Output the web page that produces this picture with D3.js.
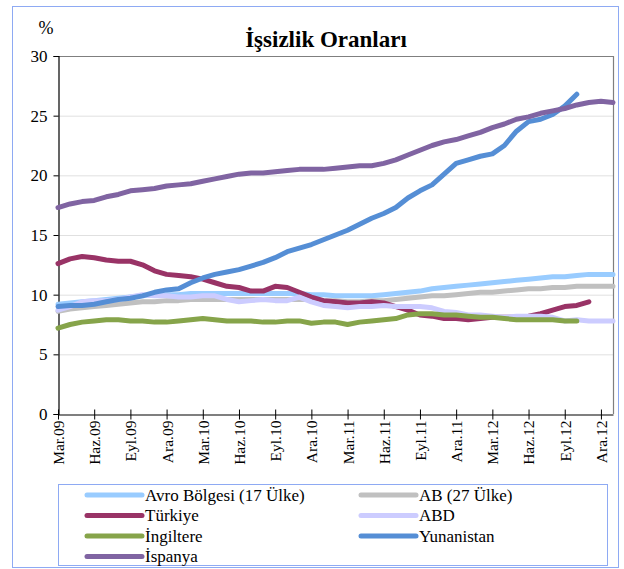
<!DOCTYPE html>
<html>
<head>
<meta charset="utf-8">
<script src="https://cdn.jsdelivr.net/npm/d3@7"></script>
<style>
    body { margin: 0; background: #fff; }
    svg { display: block; }
    svg text { font-family: "Liberation Serif", "DejaVu Serif", serif; }
</style>
</head>
<body>
<script>
// months Mar.09 .. Oca.13, one value per month
var months = ["Mar.09","Nis.09","May.09","Haz.09","Tem.09","Agu.09","Eyl.09","Eki.09","Kas.09","Ara.09",
	      "Oca.10","Sub.10","Mar.10","Nis.10","May.10","Haz.10","Tem.10","Agu.10","Eyl.10","Eki.10","Kas.10","Ara.10",
	      "Oca.11","Sub.11","Mar.11","Nis.11","May.11","Haz.11","Tem.11","Agu.11","Eyl.11","Eki.11","Kas.11","Ara.11",
	      "Oca.12","Sub.12","Mar.12","Nis.12","May.12","Haz.12","Tem.12","Agu.12","Eyl.12","Eki.12","Kas.12","Ara.12",
	      "Oca.13"] ;

var tickLabels = ["Mar.09","Haz.09","Eyl.09","Ara.09","Mar.10","Haz.10","Eyl.10","Ara.10",
		  "Mar.11","Haz.11","Eyl.11","Ara.11","Mar.12","Haz.12","Eyl.12","Ara.12"] ;

var yTicks = [0, 5, 10, 15, 20, 25, 30] ;

var avro = [9.2, 9.3, 9.4, 9.5, 9.6, 9.7, 9.8, 9.9, 10.0, 10.0,
	    10.0, 10.1, 10.1, 10.1, 10.1, 10.1, 10.1, 10.1, 10.1, 10.1, 10.1, 10.0,
	    10.0, 9.9, 9.9, 9.9, 9.9, 10.0, 10.1, 10.2, 10.3, 10.5, 10.6, 10.7,
	    10.8, 10.9, 11.0, 11.1, 11.2, 11.3, 11.4, 11.5, 11.5, 11.6, 11.7, 11.7,
	    11.7] ;

var ab27 = [8.6, 8.8, 8.9, 9.0, 9.1, 9.2, 9.3, 9.4, 9.4, 9.5,
	    9.5, 9.6, 9.6, 9.6, 9.6, 9.6, 9.6, 9.6, 9.6, 9.6, 9.6, 9.6,
	    9.5, 9.5, 9.4, 9.4, 9.5, 9.5, 9.6, 9.7, 9.8, 9.9, 9.9, 10.0,
	    10.1, 10.2, 10.2, 10.3, 10.4, 10.5, 10.5, 10.6, 10.6, 10.7, 10.7, 10.7,
	    10.7] ;

var turkiye = [12.6, 13.0, 13.2, 13.1, 12.9, 12.8, 12.8, 12.5, 12.0, 11.7,
	       11.6, 11.5, 11.3, 11.0, 10.7, 10.6, 10.3, 10.3, 10.7, 10.6, 10.2, 9.8,
	       9.5, 9.4, 9.3, 9.3, 9.4, 9.3, 9.0, 8.7, 8.3, 8.2, 8.0, 8.0,
	       7.9, 8.0, 8.1, 8.1, 8.1, 8.2, 8.4, 8.7, 9.0, 9.1, 9.4] ;

var abd = [8.7, 9.0, 9.4, 9.5, 9.5, 9.6, 9.8, 10.0, 9.9, 9.9,
	   9.8, 9.8, 9.9, 9.9, 9.6, 9.4, 9.5, 9.6, 9.5, 9.5, 9.8, 9.4,
	   9.1, 9.0, 8.9, 9.0, 9.0, 9.1, 9.0, 9.0, 9.0, 8.9, 8.6, 8.5,
	   8.3, 8.3, 8.2, 8.1, 8.2, 8.2, 8.2, 8.1, 7.8, 7.9, 7.8, 7.8,
	   7.8] ;

var ingiltere = [7.2, 7.5, 7.7, 7.8, 7.9, 7.9, 7.8, 7.8, 7.7, 7.7,
		 7.8, 7.9, 8.0, 7.9, 7.8, 7.8, 7.8, 7.7, 7.7, 7.8, 7.8, 7.6,
		 7.7, 7.7, 7.5, 7.7, 7.8, 7.9, 8.0, 8.3, 8.4, 8.4, 8.3, 8.3,
		 8.2, 8.1, 8.1, 8.0, 7.9, 7.9, 7.9, 7.9, 7.8, 7.8] ;

var yunanistan = [9.0, 9.1, 9.1, 9.2, 9.4, 9.6, 9.7, 9.9, 10.2, 10.4,
		  10.5, 11.0, 11.4, 11.7, 11.9, 12.1, 12.4, 12.7, 13.1, 13.6, 13.9, 14.2,
		  14.6, 15.0, 15.4, 15.9, 16.4, 16.8, 17.3, 18.1, 18.7, 19.2, 20.1, 21.0,
		  21.3, 21.6, 21.8, 22.5, 23.7, 24.5, 24.7, 25.1, 25.8, 26.8] ;

var ispanya = [17.3, 17.6, 17.8, 17.9, 18.2, 18.4, 18.7, 18.8, 18.9, 19.1,
	       19.2, 19.3, 19.5, 19.7, 19.9, 20.1, 20.2, 20.2, 20.3, 20.4, 20.5, 20.5,
	       20.5, 20.6, 20.7, 20.8, 20.8, 21.0, 21.3, 21.7, 22.1, 22.5, 22.8, 23.0,
	       23.3, 23.6, 24.0, 24.3, 24.7, 24.9, 25.2, 25.4, 25.6, 25.9, 26.1, 26.2,
	       26.1] ;

var seriesNames = ["Avro Bölgesi (17 Ülke)", "AB (27 Ülke)", "Türkiye", "ABD", "İngiltere", "Yunanistan", "İspanya"] ;
var seriesColors = ["#99ccff", "#c0c0c0", "#993366", "#ccccff", "#86a44a", "#558ed5", "#8064a2"] ;
var seriesValues = [avro, ab27, turkiye, abd, ingiltere, yunanistan, ispanya] ;

var fontFamily = "Liberation Serif, DejaVu Serif, serif" ;

function draw_chart()
{
    var width = 624, height = 569 ;
    var left = 58, right = 613, top = 56, bottom = 414 ;

    var svg = d3.select("body").append("svg")
	.attr("width", width)
	.attr("height", height) ;

    //outer frame
    svg.append("rect")
	.attr("x", 12.5)
	.attr("y", 6.5)
	.attr("width", 606)
	.attr("height", 561)
	.attr("fill", "none")
	.attr("stroke", "#8eaaf3")
	.attr("stroke-width", 1) ;

    var x = d3.scalePoint()
	.domain(months)
	.range([left, right]) ;

    var y = d3.scaleLinear()
	.domain([0, 30])
	.range([bottom, top]) ;

    //horizontal grid lines
    svg.append("g")
	.selectAll("line")
	.data(yTicks.filter(function(d) { return d > 0 && d < 30 ; }))
	.enter().append("line")
	.attr("x1", left)
	.attr("x2", right)
	.attr("y1", function(d) { return y(d) + 0.5 ; })
	.attr("y2", function(d) { return y(d) + 0.5 ; })
	.attr("stroke", "#e0e0e0")
	.attr("stroke-width", 1) ;

    //top and right frame of the plot area
    svg.append("path")
	.attr("d", "M" + left + "," + (top + 0.5) + "H" + (right + 0.5) + "V" + bottom)
	.attr("fill", "none")
	.attr("stroke", "#7f7f7f")
	.attr("stroke-width", 1.2) ;

    //y axis
    var yAxis = svg.append("g")
	.attr("transform", "translate(" + (left + 0.5) + ",0)")
	.call(d3.axisLeft(y).tickValues(yTicks).tickSize(5).tickPadding(6)) ;

    yAxis.attr("font-family", null) ;
    yAxis.select(".domain").attr("stroke", "#000").attr("stroke-width", 1.2) ;
    yAxis.selectAll(".tick line").attr("stroke", "#000") ;
    yAxis.selectAll("text")
	.style("font-family", fontFamily)
	.style("font-size", "17px")
	.attr("fill", "#000") ;

    //x axis, ticks cross the axis line
    var xAxis = svg.append("g")
	.attr("transform", "translate(0," + (bottom + 0.5) + ")")
	.call(d3.axisBottom(x).tickValues(tickLabels).tickSizeInner(4).tickSizeOuter(0).tickPadding(6)) ;

    xAxis.attr("font-family", null) ;
    xAxis.select(".domain").attr("stroke", "#000").attr("stroke-width", 1.2) ;
    xAxis.selectAll(".tick line")
	.attr("stroke", "#000")
	.attr("y1", -5)
	.attr("y2", 5) ;
    xAxis.selectAll("text")
	.style("font-family", fontFamily)
	.style("font-size", "15.5px")
	.attr("fill", "#000")
	.attr("text-anchor", "end")
	.attr("dy", "0.35em")
	.attr("transform", "translate(0,6) rotate(-90)")
	.attr("x", 0)
	.attr("y", 0) ;

    //series lines
    var line = d3.line()
	.x(function(d, i) { return x(months[i]) ; })
	.y(function(d) { return y(d) ; }) ;

    svg.append("g")
	.selectAll("path")
	.data(seriesValues)
	.enter().append("path")
	.attr("d", line)
	.attr("fill", "none")
	.attr("stroke", function(d, i) { return seriesColors[i] ; })
	.attr("stroke-width", 5)
	.attr("stroke-linejoin", "round")
	.attr("stroke-linecap", "round") ;

    //title and unit
    svg.append("text")
	.attr("x", 326)
	.attr("y", 47)
	.style("font-family", fontFamily)
	.style("font-weight", "bold")
	.style("font-size", "23px")
	.attr("text-anchor", "middle")
	.text("İşsizlik Oranları") ;

    svg.append("text")
	.attr("x", 46)
	.attr("y", 34)
	.style("font-family", fontFamily)
	.style("font-size", "18px")
	.attr("text-anchor", "middle")
	.text("%") ;

    //legend
    svg.append("rect")
	.attr("x", 58.5)
	.attr("y", 484.5)
	.attr("width", 549)
	.attr("height", 81)
	.attr("fill", "none")
	.attr("stroke", "#8eaaf3")
	.attr("stroke-width", 1) ;

    var legend = svg.append("g")
	.selectAll("g")
	.data(seriesNames)
	.enter().append("g")
	.attr("transform", function(d, i) {
	    var col = i % 2, row = Math.floor(i / 2) ;
	    return "translate(" + (col == 0 ? 87 : 361) + "," + (495 + row * 20.5) + ")" ;
	}) ;

    legend.append("line")
	.attr("x1", 0)
	.attr("x2", 55)
	.attr("y1", 0)
	.attr("y2", 0)
	.attr("stroke", function(d, i) { return seriesColors[i] ; })
	.attr("stroke-width", 5)
	.attr("stroke-linecap", "round") ;

    legend.append("text")
	.attr("x", 58)
	.attr("y", 0)
	.attr("dy", "0.35em")
	.style("font-family", fontFamily)
	.style("font-size", "17px")
	.text(function(d) { return d ; }) ;
}

draw_chart() ;
</script>
</body>
</html>
